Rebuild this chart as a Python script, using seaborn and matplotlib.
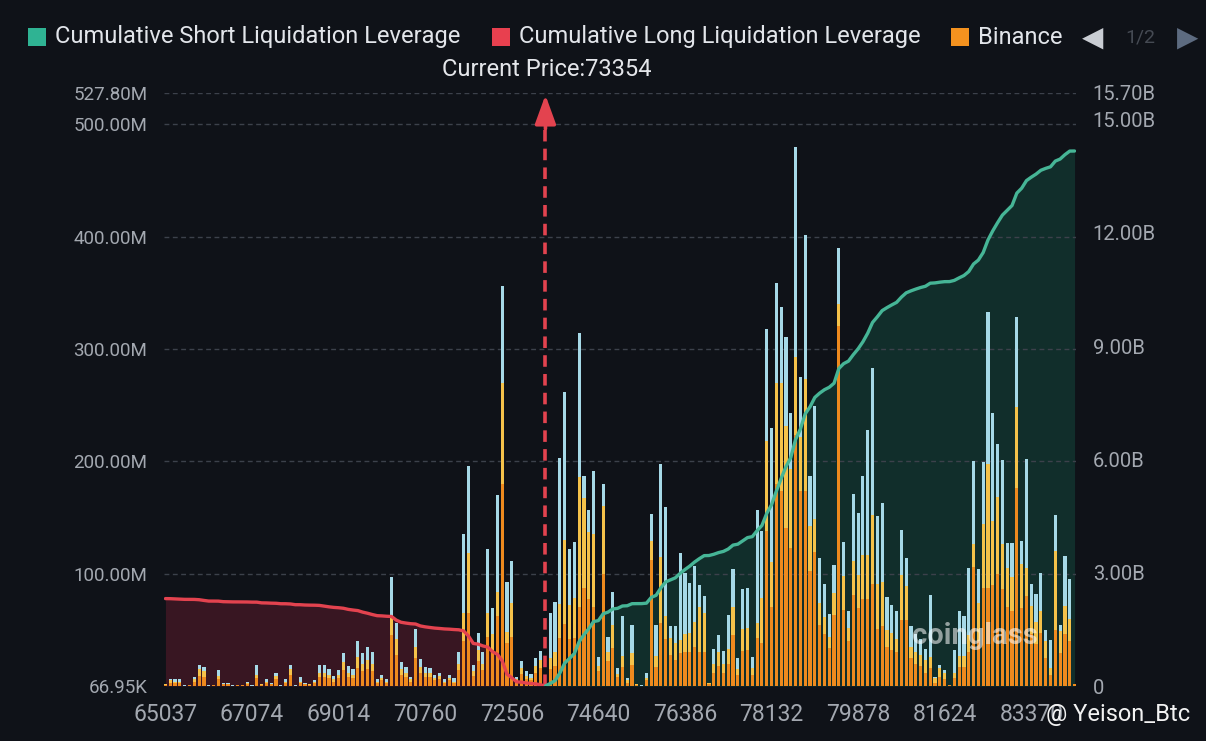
import numpy as np
import pandas as pd
import matplotlib
matplotlib.use('Agg')
import matplotlib.pyplot as plt
import seaborn as sns
from matplotlib.patches import Rectangle

# liquidation leverage per price bin, in millions USD (low price -> high price)
binance = [
    1, 3, 3, 3, 0.3, 0.5, 4, 9, 8, 0.3,
    0.5, 6, 1.5, 1.5, 0.3, 0.5, 0.5, 2, 0.3, 7,
    1, 3, 1.5, 6, 0.3, 3, 10, 0.3, 3, 1.5,
    1, 2.5, 8, 8, 7, 4, 7, 14, 8, 7,
    16, 13, 15, 13, 3, 5, 3, 45, 28, 10,
    8, 4, 25, 12, 8, 8, 5, 6, 3, 5,
    3, 14, 40, 65, 9, 22, 14, 44, 32, 62,
    180, 38, 44, 4, 11, 6, 5, 12, 16, 1,
    15, 18, 43, 55, 42, 43, 70, 87, 77, 70,
    13, 100, 22, 34, 8, 17, 3, 19, 1, 0.3,
    5, 112, 17, 56, 42, 28, 23, 29, 30, 30,
    35, 30, 30, 2, 12, 18, 12, 20, 45, 10,
    31, 32, 10, 43, 38, 138, 70, 180, 174, 141,
    123, 223, 174, 174, 102, 119, 54, 46, 34, 63,
    320, 68, 40, 81, 69, 77, 77, 91, 51, 53,
    35, 32, 30, 59, 59, 25, 20, 18, 12, 16,
    3, 8, 6, 0.5, 7, 17, 17, 30, 106, 40,
    87, 87, 90, 100, 86, 70, 67, 176, 69, 80,
    46, 37, 47, 25, 10, 50, 29, 46, 40, 1.5,
]
okx = [
    0.5, 2, 1, 1, 0.1, 0.2, 2, 6, 5, 0.1,
    0.2, 3, 0.5, 0.5, 0.1, 0.2, 0.2, 1, 0.1, 3,
    0.5, 1, 0.5, 3, 0.1, 1, 5, 0.1, 1, 0.5,
    0.5, 1, 4, 4, 3, 2, 3, 7, 4, 3,
    10, 7, 8, 7, 1, 2, 1, 17, 14, 5,
    4, 2, 10, 5, 4, 4, 2, 3, 1, 2,
    1, 6, 25, 53, 4, 10, 6, 21, 14, 22,
    90, 10, 30, 2, 5, 3, 2, 6, 7, 0.5,
    10, 12, 30, 75, 30, 35, 116, 80, 60, 65,
    5, 60, 8, 20, 3, 10, 2, 10, 0.5, 0.1,
    2, 17, 10, 59, 20, 15, 15, 12, 16, 17,
    22, 40, 35, 0.5, 8, 12, 8, 13, 25, 5,
    20, 20, 6, 13, 40, 80, 40, 90, 96, 90,
    70, 70, 48, 99, 40, 30, 20, 15, 10, 20,
    20, 30, 12, 30, 30, 40, 40, 61, 40, 40,
    15, 15, 12, 40, 30, 10, 10, 10, 11, 10,
    4, 8, 6, 0.2, 5, 10, 10, 15, 20, 34,
    57, 111, 57, 68, 40, 35, 30, 72, 40, 25,
    25, 20, 20, 15, 6, 70, 20, 25, 20, 0,
]
bybit = [
    0.5, 1, 2, 2, 0.1, 0.3, 2, 4, 4, 0.1,
    0.3, 5, 1, 1, 0.1, 0.3, 0.3, 1, 0.1, 9,
    0.5, 2, 1, 3, 0.1, 2, 4, 0.1, 4, 1,
    0.5, 1.5, 7, 7, 5, 3, 4, 8, 6, 5,
    14, 9, 12, 10, 2, 3, 2, 35, 14, 6,
    5, 2, 16, 7, 5, 4, 3, 3, 2, 3,
    3, 10, 70, 78, 6, 15, 10, 57, 23, 86,
    86, 45, 37, 2, 6, 4, 4, 7, 8, 0.5,
    40, 45, 130, 132, 50, 50, 128, 20, 20, 56,
    8, 20, 14, 30, 5, 35, 2, 25, 0.5, 0.1,
    5, 24, 27, 83, 97, 10, 15, 77, 55, 45,
    50, 20, 15, 0.5, 13, 15, 11, 30, 34, 10,
    35, 35, 10, 101, 60, 100, 120, 89, 67, 80,
    50, 187, 53, 128, 45, 100, 40, 30, 20, 25,
    50, 30, 15, 60, 55, 70, 111, 131, 60, 70,
    29, 25, 25, 40, 25, 18, 16, 14, 10, 55,
    1, 3, 2, 0.3, 20, 40, 35, 60, 74, 30,
    55, 135, 96, 47, 75, 22, 30, 80, 20, 97,
    20, 25, 34, 10, 25, 32, 5, 45, 35, 0,
]

x_tick_labels = ['65037', '67074', '69014', '70760', '72506', '74640',
                 '76386', '78132', '79878', '81624', '83370']
x_tick_step = 18
current_index = 79
current_price = 73354

left_ticks = [66950, 100e6, 200e6, 300e6, 400e6, 500e6, 527.8e6]
left_labels = ['66.95K', '100.00M', '200.00M', '300.00M', '400.00M', '500.00M', '527.80M']
right_ticks = [0, 3e9, 6e9, 9e9, 12e9, 15e9, 15.7e9]
right_labels = ['0', '3.00B', '6.00B', '9.00B', '12.00B', '15.00B', '15.70B']

BG = '#0f1218'
ORANGE = '#ee8a1e'
YELLOW = '#f5c24a'
BLUE = '#a6d9e7'
RED = '#e3434f'
GREEN = '#46b596'
TICK = '#a3a8b0'
W, H = 1206, 741

sns.set_style('dark', {'axes.facecolor': BG, 'figure.facecolor': BG})
plt.rcParams['font.family'] = ['Roboto', 'DejaVu Sans']

df = pd.DataFrame({
    'bin': np.arange(len(binance)),
    'binance': np.array(binance) * 1e6,
    'okx': np.array(okx) * 1e6,
    'bybit': np.array(bybit) * 1e6,
})
df['mid'] = df['binance'] + df['okx']
df['total'] = df['mid'] + df['bybit']
n = len(df)

total = df['total'].to_numpy()
long_cum = np.append(np.cumsum(total[:current_index][::-1])[::-1], 0.0)
long_x = np.arange(current_index + 1)
short_cum = np.cumsum(total[current_index:])
short_x = np.arange(current_index, n)

fig = plt.figure(figsize=(W / 100, H / 100), dpi=100)
ax = fig.add_axes([164 / W, 55 / H, 912 / W, 593 / H])
ax_fill = ax.twinx()
ax_line = ax.twinx()
ax_fill.set_zorder(0)
ax.set_zorder(1)
ax_line.set_zorder(2)
ax_fill.patch.set_visible(True)
ax_fill.patch.set_facecolor(BG)
ax.patch.set_visible(False)
ax_line.patch.set_visible(False)

# stacked bars: draw cumulative heights from the top segment down
sns.barplot(data=df, x='bin', y='total', color=BLUE, width=0.66, saturation=1,
            errorbar=None, linewidth=0, ax=ax)
sns.barplot(data=df, x='bin', y='mid', color=YELLOW, width=0.66, saturation=1,
            errorbar=None, linewidth=0, ax=ax)
sns.barplot(data=df, x='bin', y='binance', color=ORANGE, width=0.66, saturation=1,
            errorbar=None, linewidth=0, ax=ax)

# cumulative areas behind the bars, lines in front
ax_fill.fill_between(long_x, long_cum, color='#381622', linewidth=0)
ax_fill.fill_between(short_x, short_cum, color='#112e2b', linewidth=0)
sns.lineplot(x=long_x, y=long_cum, color=RED, linewidth=2.4, ax=ax_line)
sns.lineplot(x=short_x, y=short_cum, color=GREEN, linewidth=2.4, ax=ax_line)

for a in (ax, ax_fill, ax_line):
    a.set_xlim(-0.3, n - 0.7)
    for s in a.spines.values():
        s.set_visible(False)
    a.set_xlabel('')
    a.set_ylabel('')
ax.set_ylim(0, 527.8e6)
ax_fill.set_ylim(0, 15.7e9)
ax_line.set_ylim(0, 15.7e9)

ax.set_xticks(np.arange(0, n, x_tick_step), x_tick_labels)
ax.set_yticks(left_ticks, left_labels)
ax.tick_params(axis='x', length=0, pad=12, labelsize=16.5, labelcolor=TICK)
ax.tick_params(axis='y', length=0, pad=12, labelsize=13.5, labelcolor=TICK)
ax.yaxis.grid(True, color='#3c414b', linestyle=(0, (3.5, 2.5)), linewidth=1)
ax.xaxis.grid(False)
ax_fill.set_yticks([])
ax_fill.tick_params(length=0, labelleft=False, labelright=False)
ax_line.set_yticks(right_ticks, right_labels)
ax_line.tick_params(axis='y', length=0, pad=12, labelsize=14.5, labelcolor=TICK)

# current price marker
ax.vlines(current_index, 0, 500e6, colors=RED, linestyles=(0, (3.2, 2)),
          linewidth=2.6, zorder=6)
ax.annotate('', xy=(current_index, 526e6), xytext=(current_index, 496e6),
            arrowprops=dict(arrowstyle='-|>,head_length=1.1,head_width=0.4',
                            color=RED, lw=2.6, shrinkA=0, shrinkB=0,
                            mutation_scale=16), zorder=7)
ax.annotate(f'Current Price:{current_price}', xy=(current_index, 527.8e6),
            xytext=(1, 17), textcoords='offset points', ha='center', va='center',
            fontsize=17, color='#e4e6ea', annotation_clip=False)


def fx(px):
    return px / W


def fy(py):
    return 1 - py / H


# legend row
legend_items = [('Cumulative Short Liquidation Leverage', '#2fb393', 28),
                ('Cumulative Long Liquidation Leverage', '#e8404f', 492),
                ('Binance', '#f4921f', 951)]
for label, col, x0 in legend_items:
    fig.add_artist(Rectangle((fx(x0), fy(46)), 18 / W, 18 / H,
                             transform=fig.transFigure, color=col, lw=0))
    fig.text(fx(x0 + 27), fy(37), label, fontsize=17, color='#e2e5ea',
             va='center', ha='left')
fig.text(fx(1093), fy(38), '\u25C0', fontsize=20, color='#c9cdd3',
         ha='center', va='center', family='DejaVu Sans')
fig.text(fx(1140), fy(37), '1/2', fontsize=14, color='#454a53',
         ha='center', va='center')
fig.text(fx(1188), fy(38), '\u25B6', fontsize=20, color='#5d6b80',
         ha='center', va='center', family='DejaVu Sans')

# watermarks
fig.text(fx(975), fy(636), 'coinglass', fontsize=21, fontweight='bold',
         color='white', alpha=0.55, ha='center', va='center')
fig.text(fx(1118), fy(714), '@ Yeison_Btc', fontsize=17, color='#f2f2f2',
         ha='center', va='center')

fig.savefig('out.png', dpi=100, facecolor=BG)
